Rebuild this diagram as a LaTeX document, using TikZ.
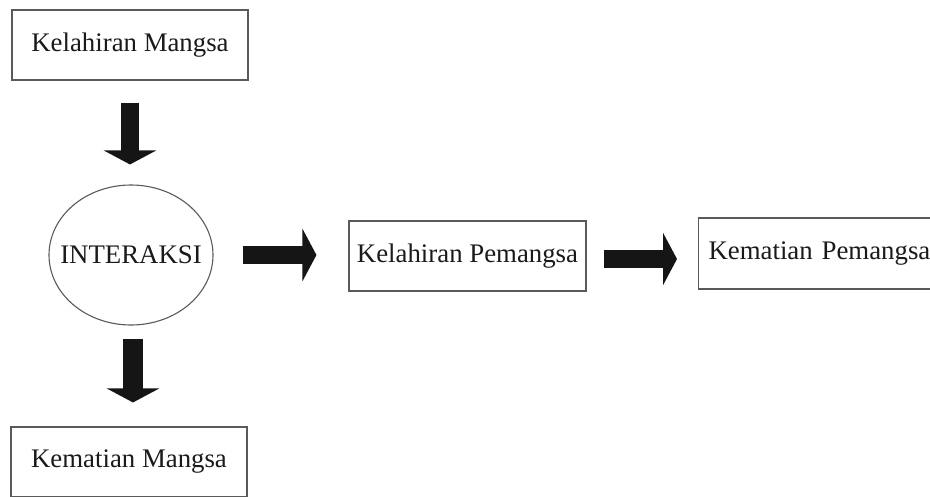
\documentclass[tikz,border=0pt]{standalone}
\usepackage{fontspec}
\setmainfont{Liberation Serif}
\usetikzlibrary{arrows.meta,shapes.geometric}
\definecolor{boxline}{HTML}{5A5A5A}
\definecolor{txt}{HTML}{1A1A1A}
\definecolor{arr}{HTML}{151515}
\begin{document}
\begin{tikzpicture}[x=1pt,y=-1pt,
  box/.style={draw=boxline,line width=1.1pt,rectangle,minimum height=70pt,inner sep=0pt,
    text=txt,font=\fontsize{26.8}{30}\selectfont},
  oval/.style={draw=boxline,line width=1.1pt,ellipse,minimum width=164pt,minimum height=140pt,inner sep=0pt,
    text=txt,font=\fontsize{26.8}{30}\selectfont},
  blockarrow/.style={draw=arr,line width=#1,-{Triangle[length=14pt,width=52pt]},line cap=butt},
]
\clip (0,0) rectangle (930,496);
\fill[white] (0,0) rectangle (930,496);
\node[box,minimum width=236pt] (km) at (130,45) {Kelahiran Mangsa};
\node[oval] (int) at (131,255) {\makebox[0pt]{INTERAKSI}};
\node[box,minimum width=237pt] (kp) at (467.5,256) {Kelahiran Pemangsa};
\node[box,anchor=west,text width=230pt,align=left,inner xsep=10pt,minimum height=71pt] (kpm) at (698,253.5) {Kematian Pemangsa};
\node[box,minimum width=236pt] (kmg) at (129,462) {Kematian Mangsa};

\draw[blockarrow=18pt,shorten <=22pt,shorten >=20pt] (km.south) -- (km.south |- int.north);
\draw[blockarrow=20pt,shorten <=13pt,shorten >=24pt] ([xshift=2pt]int.south) -- ([xshift=2pt]int.south |- kmg.north);
\draw[blockarrow=18pt,shorten <=29pt,shorten >=32pt] (int.east) -- (int.east -| kp.west);
\draw[blockarrow=18pt,shorten <=17pt,shorten >=21pt] ([yshift=-3pt]kp.east) -- ([yshift=-3pt]kp.east -| kpm.west);
\end{tikzpicture}
\end{document}
